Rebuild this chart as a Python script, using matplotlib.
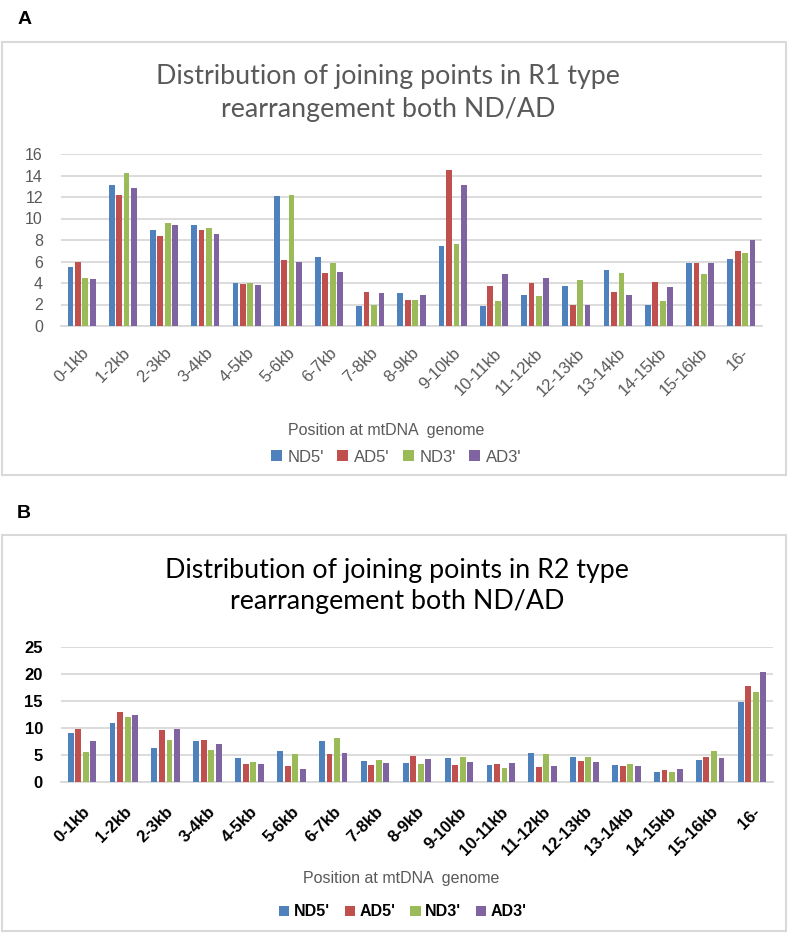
import numpy as np
import matplotlib
matplotlib.use("Agg")
import matplotlib.pyplot as plt
from matplotlib.patches import Rectangle

# categories and series
cats = ["0-1kb", "1-2kb", "2-3kb", "3-4kb", "4-5kb", "5-6kb", "6-7kb", "7-8kb", "8-9kb",
        "9-10kb", "10-11kb", "11-12kb", "12-13kb", "13-14kb", "14-15kb", "15-16kb", "16-"]
series = ["ND5'", "AD5'", "ND3'", "AD3'"]
colors = ["#4F81BD", "#C0504D", "#9BBB59", "#8064A2"]

# panel A (R1 type)
a_nd5 = [5.5, 13.1, 8.95, 9.4, 4.0, 12.05, 6.45, 1.85, 3.05, 7.4, 1.85, 2.9, 3.7, 5.25, 2.0, 5.85, 6.2]
a_ad5 = [6.0, 12.2, 8.4, 8.9, 3.9, 6.1, 4.95, 3.15, 2.45, 14.5, 3.75, 4.0, 2.0, 3.15, 4.1, 5.85, 7.0]
a_nd3 = [4.5, 14.2, 9.55, 9.1, 4.0, 12.2, 5.85, 2.0, 2.45, 7.6, 2.3, 2.8, 4.3, 4.9, 2.3, 4.8, 6.8]
a_ad3 = [4.4, 12.85, 9.4, 8.6, 3.8, 6.0, 5.05, 3.05, 2.85, 13.15, 4.85, 4.45, 2.0, 2.85, 3.65, 5.9, 8.0]

# panel B (R2 type)
b_nd5 = [9.15, 10.85, 6.25, 7.55, 4.4, 5.8, 7.55, 3.8, 3.6, 4.4, 3.15, 5.45, 4.6, 3.15, 1.85, 4.0, 14.9]
b_ad5 = [9.75, 12.9, 9.65, 7.8, 3.25, 2.95, 5.1, 3.2, 4.85, 3.2, 3.3, 2.8, 3.9, 3.05, 2.15, 4.6, 17.7]
b_nd3 = [5.6, 12.0, 7.75, 5.9, 3.75, 5.2, 8.15, 4.05, 3.35, 4.7, 2.6, 5.15, 4.55, 3.25, 1.9, 5.65, 16.6]
b_ad3 = [7.6, 12.5, 9.9, 7.1, 3.25, 2.5, 5.3, 3.5, 4.35, 3.75, 3.5, 2.95, 3.75, 3.0, 2.5, 4.5, 20.3]

W, H = 798, 933
fig = plt.figure(figsize=(W / 100, H / 100), dpi=100)

def fx(px):
    return px / W

def fy(py):
    return 1 - py / H

arial = ["Liberation Sans", "DejaVu Sans"]
calibri = ["Lato", "DejaVu Sans"]
grid_c = "#D9D9D9"
gray = "#595959"

# panel boxes
for top, bot in [(42, 475), (535, 931)]:
    fig.patches.append(Rectangle((fx(2), fy(bot)), fx(784), (bot - top) / H,
                                 transform=fig.transFigure, fill=False,
                                 edgecolor=grid_c, linewidth=1.5))

fig.text(fx(18), fy(20), "A", fontsize=14, fontweight="bold", va="center", family=arial)
fig.text(fx(17), fy(513), "B", fontsize=14, fontweight="bold", va="center", family=arial)


def draw_panel(ax, data, ymax, step, bold, pad):
    x = np.arange(len(cats))
    bw = 0.14
    pitch = 0.18
    for i, (vals, c, name) in enumerate(zip(data, colors, series)):
        ax.bar(x + (i - 1.5) * pitch, vals, bw, color=c, label=name, zorder=3)
    ax.set_xlim(-0.5, len(cats) - 0.5)
    ax.set_ylim(0, ymax)
    ax.set_yticks(np.arange(0, ymax + 0.1, step))
    ax.grid(axis="y", color=grid_c, linewidth=1.3, zorder=0)
    for s in ["top", "right", "left"]:
        ax.spines[s].set_visible(False)
    ax.spines["bottom"].set_color(grid_c)
    ax.spines["bottom"].set_linewidth(1.3)
    ax.tick_params(length=0)
    ax.tick_params(axis="x", pad=pad)
    ax.set_xticks(x)
    col = "black" if bold else gray
    wt = "bold" if bold else "normal"
    ax.set_xticklabels(cats, rotation=45, ha="right", rotation_mode="anchor",
                       fontsize=12, fontweight=wt, family=arial, color=col)
    ax.tick_params(axis="y", labelsize=12 if bold else 11.5, labelcolor=col, pad=13)
    for t in ax.get_yticklabels():
        t.set_fontweight(wt)
        t.set_family(arial)


# panel A
axA = fig.add_axes([fx(61), fy(326), fx(701), (326 - 154) / H])
draw_panel(axA, [a_nd5, a_ad5, a_nd3, a_ad3], 16, 2, False, 14)
fig.text(fx(388), fy(93), "Distribution of joining points in R1 type\nrearrangement both ND/AD",
         ha="center", va="center", fontsize=19.3, color=gray, family=calibri, linespacing=1.42)
fig.text(fx(386), fy(431), "Position at mtDNA  genome", ha="center", va="center",
         fontsize=11.5, color=gray, family=arial)
h, l = axA.get_legend_handles_labels()
legA = fig.legend(h, l, loc="center", bbox_to_anchor=(fx(396), fy(457)), ncol=4,
                  frameon=False, handlelength=0.65, handleheight=0.65, handletextpad=0.35,
                  columnspacing=0.8, prop={"family": arial, "size": 12})
for t in legA.get_texts():
    t.set_color(gray)

# panel B
axB = fig.add_axes([fx(61), fy(782), fx(712), (782 - 647) / H])
draw_panel(axB, [b_nd5, b_ad5, b_nd3, b_ad3], 25, 5, True, 16)
fig.text(fx(397), fy(586), "Distribution of joining points in R2 type\nrearrangement both ND/AD",
         ha="center", va="center", fontsize=19.3, color="black", family=calibri,
         linespacing=1.3)
fig.text(fx(401), fy(879), "Position at mtDNA  genome", ha="center", va="center",
         fontsize=11.5, color=gray, family=arial)
h, l = axB.get_legend_handles_labels()
legB = fig.legend(h, l, loc="center", bbox_to_anchor=(fx(403), fy(912)), ncol=4,
                  frameon=False, handlelength=0.65, handleheight=0.65, handletextpad=0.3,
                  columnspacing=0.9, prop={"family": arial, "size": 11.5, "weight": "bold"})

fig.savefig("out.png", dpi=100)
